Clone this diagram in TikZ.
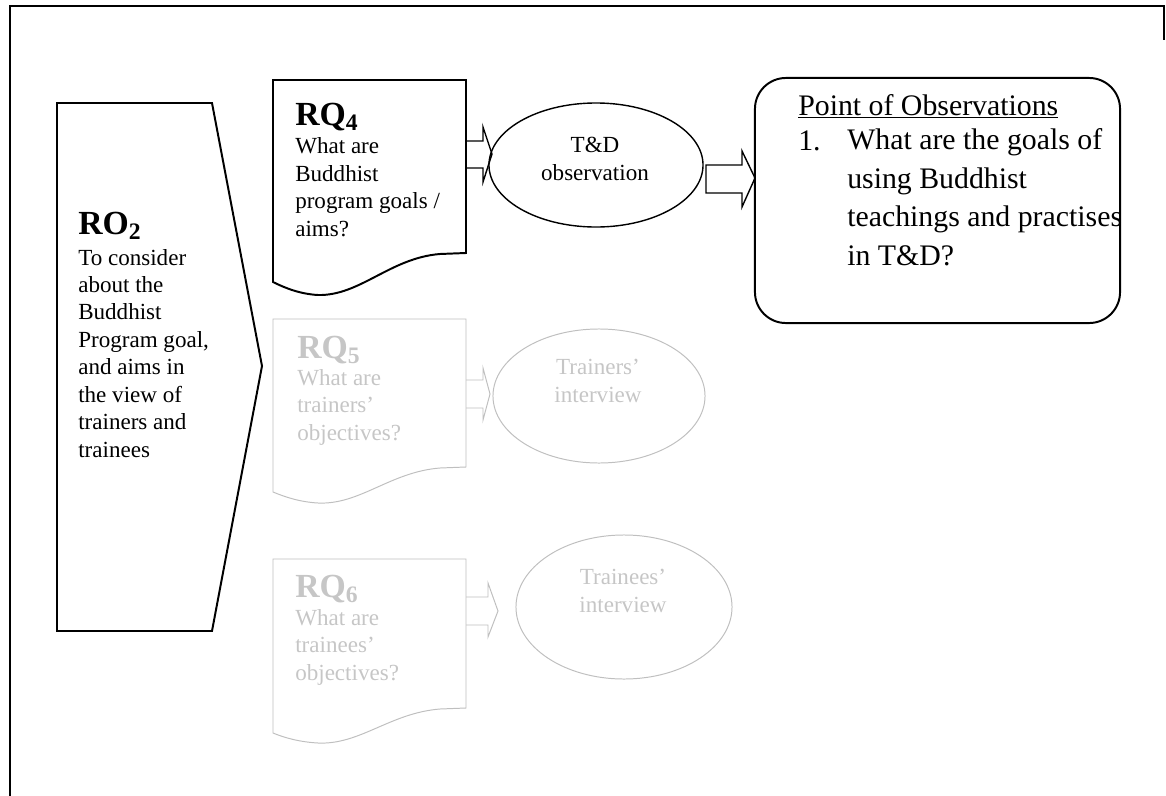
\documentclass[tikz,border=0pt]{standalone}
\usepackage{fontspec}
\setmainfont{Liberation Serif}
\usetikzlibrary{shapes.geometric}

\tikzset{
  edge/.style={draw, line width=1.4pt, line join=miter},
  thin/.style={draw, line width=1pt},
  faint/.style={draw=gray!50, line width=0.7pt},
  head/.style={inner sep=0pt, anchor=base west, font=\fontsize{24}{24}\selectfont\bfseries},
  body/.style={inner sep=0pt, anchor=base west, align=left, font=\fontsize{16.4}{19.5}\selectfont},
  boxtxt/.style={inner sep=0pt, anchor=base west, align=left, font=\fontsize{21.2}{27.4}\selectfont},
  oval/.style={ellipse, inner sep=0pt},
  ghost/.style={text=gray!45}
}

\begin{document}
\begin{tikzpicture}[x=0.025cm,y=-0.025cm]
\useasboundingbox (0,0) rectangle (1166,796);

% outer frame
\draw[edge] (10,796) -- (10,6) -- (1164,6) -- (1164,40);

% research objective (multi-line nodes sit on their last baseline)
\draw[edge] (57,103) -- (212,103) -- (262,366) -- (212,631) -- (57,631) -- cycle;
\node[head] (ro2) at (78,234) {RO\textsubscript{2}};
\node[body] (ro2txt) at (78,457) {To consider\\about the\\Buddhist\\Program goal,\\and aims in\\the view of\\trainers and\\trainees};

% research questions
\draw[edge] (273,80) -- (466,80) -- (466,253) -- (440,254) .. controls (390,258) and (360,296) .. (318,295) .. controls (300,294) and (285,288) .. (273,282) -- cycle;
\node[head] (rq4) at (295,125) {RQ\textsubscript{4}};
\node[body] (rq4txt) at (295,236) {What are\\Buddhist\\program goals /\\aims?};
\coordinate (rq4out) at (466,154);

\draw[faint] (273,319) -- (466,319) -- (466,467) -- (440,468) .. controls (390,472) and (360,505) .. (318,503) .. controls (300,502) and (285,497) .. (273,492) -- cycle;
\node[head, ghost] (rq5) at (297,358) {RQ\textsubscript{5}};
\node[body, ghost] (rq5txt) at (297,440) {What are\\trainers'\\objectives?};
\coordinate (rq5out) at (466,394);

\draw[faint] (273,559) -- (466,559) -- (466,708) -- (440,709) .. controls (390,713) and (360,745) .. (318,743) .. controls (300,742) and (285,738) .. (273,733) -- cycle;
\node[head, ghost] (rq6) at (295,597) {RQ\textsubscript{6}};
\node[body, ghost] (rq6txt) at (295,680) {What are\\trainees'\\objectives?};
\coordinate (rq6out) at (466,611);

% data sources
\node[oval, thin, minimum width=5.35cm, minimum height=3.1cm] (td) at (596,165) {};
\node[body, anchor=base, align=center] (tdtxt) at (595,180) {T\&D\\observation};
\node[oval, faint, minimum width=5.3cm, minimum height=3.35cm] (trn) at (599,396) {};
\node[body, ghost, anchor=base, align=center] (trntxt) at (598,402) {Trainers'\\interview};
\node[oval, faint, minimum width=5.4cm, minimum height=3.6cm] (tre) at (624,607) {};
\node[body, ghost, anchor=base, align=center] (tretxt) at (623,612) {Trainees'\\interview};
\coordinate (tdout) at (706,178);

% block arrows
\draw[thin] (rq4out) ++(0,-13) -- ++(17,0) -- ++(0,-14) -- ++(9,27) -- ++(-9,28) -- ++(0,-14) -- ++(-17,0);
\draw[faint] (rq5out) ++(0,-14) -- ++(17,0) -- ++(0,-12) -- ++(7,26) -- ++(-7,26) -- ++(0,-12) -- ++(-17,0);
\draw[faint] (rq6out) ++(0,-14) -- ++(22,0) -- ++(0,-14) -- ++(10,28) -- ++(-10,26) -- ++(0,-12) -- ++(-22,0);
\draw[thin] (tdout) ++(0,-13) -- ++(36,0) -- ++(0,-14) -- ++(13,27) -- ++(-13,29) -- ++(0,-14) -- ++(-36,0) -- cycle;

% point of observations
\node[edge, rounded corners=22pt, minimum width=9.125cm, minimum height=6.125cm] (pobs) at (937.5,200.5) {};
\node[boxtxt] (pohead) at (798,115) {\underline{Point of Observations}};
\node[boxtxt] (num) at (798,150) {1.};
\node[boxtxt] (q1) at (847,265.5) {What are the goals of\\using Buddhist\\teachings and practises\\in T\&D?};
\end{tikzpicture}
\end{document}
